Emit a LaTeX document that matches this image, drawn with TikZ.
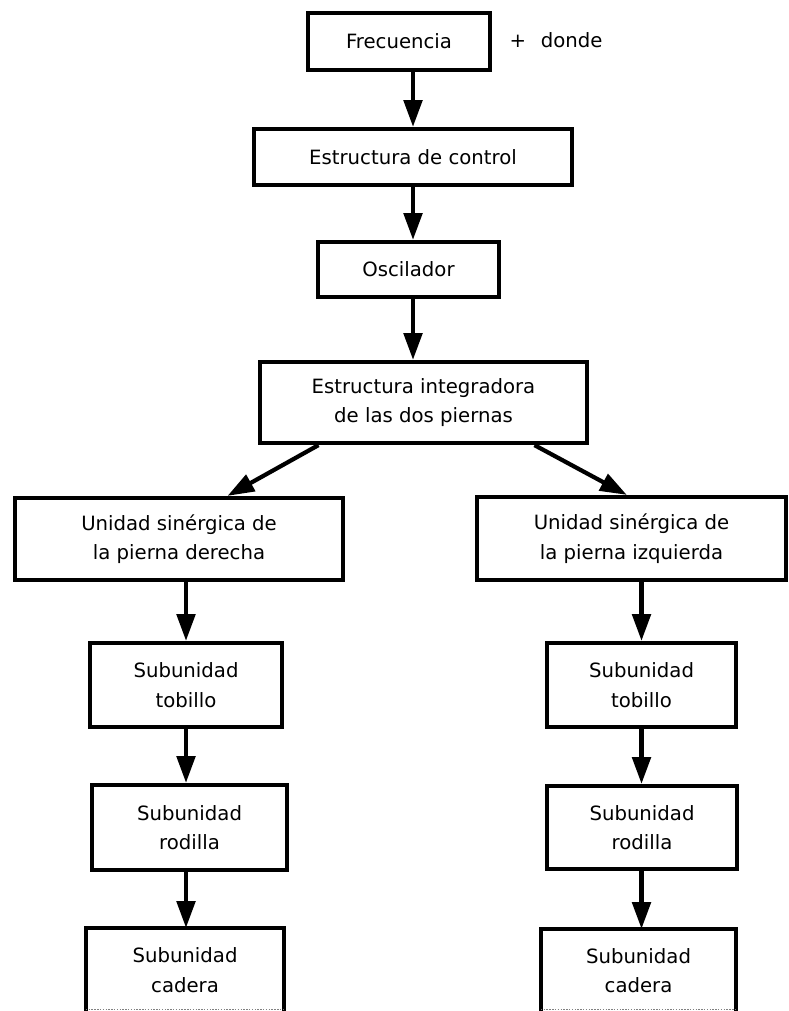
\documentclass[tikz,border=0pt]{standalone}
\usepackage{fontspec}
\setmainfont{DejaVu Sans}
\usepackage{tikz}
\usetikzlibrary{arrows.meta,calc}

\begin{document}
\begin{tikzpicture}[x=0.025cm,y=-0.025cm,
    block/.style={draw,line width=3pt,align=center,inner sep=0pt,
      font=\fontsize{14}{21}\selectfont},
    openblock/.style={block,draw=none},
    flecha/.style={line width=3pt,-{Triangle[length=19pt,width=13pt]}}]
\useasboundingbox (0,0) rectangle (788,1011);

  % main chain
  \node[block,minimum width=4.55cm,minimum height=1.425cm]  (freq)  at (399,41.5)    {Frecuencia};
  \node[font=\fontsize{14}{21}\selectfont]                  (donde) at (556,40)      {+\hspace{.75em}donde};
  \node[block,minimum width=7.95cm,minimum height=1.4cm]    (ctrl)  at (413,157)     {Estructura de control};
  \node[block,minimum width=4.525cm,minimum height=1.375cm] (osc)   at (408.5,269.5) {Oscilador};
  \node[block,minimum width=8.175cm,minimum height=2.025cm] (integ) at (423.5,402.5) {Estructura integradora\\de las dos piernas};

  % the two legs
  \node[block,minimum width=8.2cm,minimum height=2.05cm]    (uniL)  at (179,539)     {Unidad sinérgica de\\la pierna derecha};
  \node[block,minimum width=7.725cm,minimum height=2.075cm] (uniR)  at (631.5,538.5) {Unidad sinérgica de\\la pierna izquierda};

  \node[block,minimum width=4.8cm,minimum height=2.1cm]     (tobL)  at (186,685)     {Subunidad\\tobillo};
  \node[block,minimum width=4.875cm,minimum height=2.125cm] (rodL)  at (189.5,827.5) {Subunidad\\rodilla};
  \node[openblock,minimum width=4.85cm,minimum height=2cm]  (cadL)  at (185,970)     {Subunidad\\cadera};

  \node[block,minimum width=4.725cm,minimum height=2.1cm]   (tobR)  at (641.5,685)   {Subunidad\\tobillo};
  \node[block,minimum width=4.75cm,minimum height=2.075cm]  (rodR)  at (642,827.5)   {Subunidad\\rodilla};
  \node[openblock,minimum width=4.775cm,minimum height=1.975cm] (cadR) at (638.5,970.5) {Subunidad\\cadera};

  % lower boxes run off the page
  \foreach \c in {cadL,cadR}{
    \draw[line width=3pt] (\c.south west) -- (\c.north west) -- (\c.north east) -- (\c.south east);
    \draw[gray,densely dotted,line width=1pt] ([yshift=2pt]\c.south west) -- ([yshift=2pt]\c.south east);
  }

  \path[flecha]
    (freq.south -| ctrl.north) edge (ctrl.north)
    (ctrl.south)               edge (ctrl.south |- osc.north)
    (osc.south -| ctrl.south)  edge (ctrl.south |- integ.north)
    ($(integ.south west)!0.183!(integ.south east)$) edge ($(uniL.north west)!0.646!(uniL.north east)$)
    ($(integ.south west)!0.835!(integ.south east)$) edge ($(uniR.north west)!0.485!(uniR.north east)$)
    (uniL.south -| tobL.north) edge (tobL.north)
    (tobL.south)               edge (tobL.south |- rodL.north)
    (tobL.south |- rodL.south) edge (tobL.south |- cadL.north)
    (uniR.south -| tobR.north) edge (tobR.north)
    (tobR.south)               edge (tobR.south |- rodR.north)
    (tobR.south |- rodR.south) edge (tobR.south |- cadR.north)
  ;
\end{tikzpicture}
\end{document}
